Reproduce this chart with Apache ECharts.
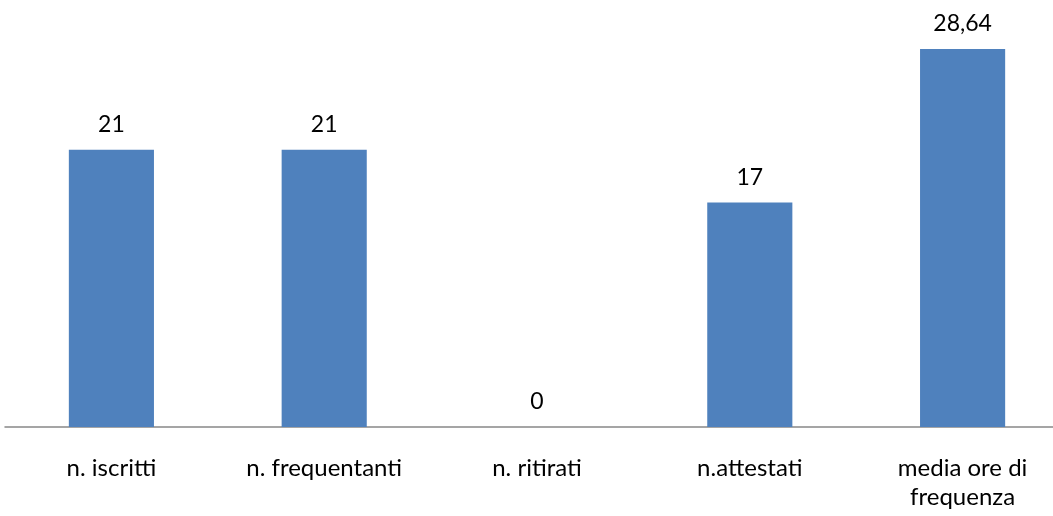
<!DOCTYPE html>
<html><head><meta charset="utf-8">
<script src="https://cdn.jsdelivr.net/npm/echarts@6/dist/echarts.min.js"></script>
<style>html,body{margin:0;padding:0;background:#fff;overflow:hidden;width:1053px;height:516px}#c{width:1069px;height:516px}</style>
</head><body><div id="c"></div>
<script>
const categories = ['n. iscritti', 'n. frequentanti', 'n. ritirati', 'n.attestati', 'media ore di\nfrequenza'];
const values = [21, 21, 0, 17, 28.64];

const chart = echarts.init(document.getElementById('c'), null, {renderer: 'canvas'});
chart.setOption({
  animation: false,
  grid: {left: 5, right: 0, top: 31, bottom: 89, containLabel: false},
  xAxis: {
    type: 'category', data: categories,
    axisLine: {lineStyle: {color: '#888888', width: 1.5}},
    axisTick: {show: false},
    axisLabel: {margin: 27, fontFamily: 'Lato', fontSize: 24, color: '#000', lineHeight: 29, interval: 0}
  },
  yAxis: {type: 'value', min: 0, max: 30, show: false, splitLine: {show: false}},
  series: [{
    type: 'bar', data: values, barWidth: '40%',
    itemStyle: {color: '#4F81BD'},
    label: {show: true, position: 'top', distance: 14, fontFamily: 'Lato', fontSize: 23, color: '#000',
      formatter: p => String(p.value).replace('.', ',')}
  }]
});
</script></body></html>
